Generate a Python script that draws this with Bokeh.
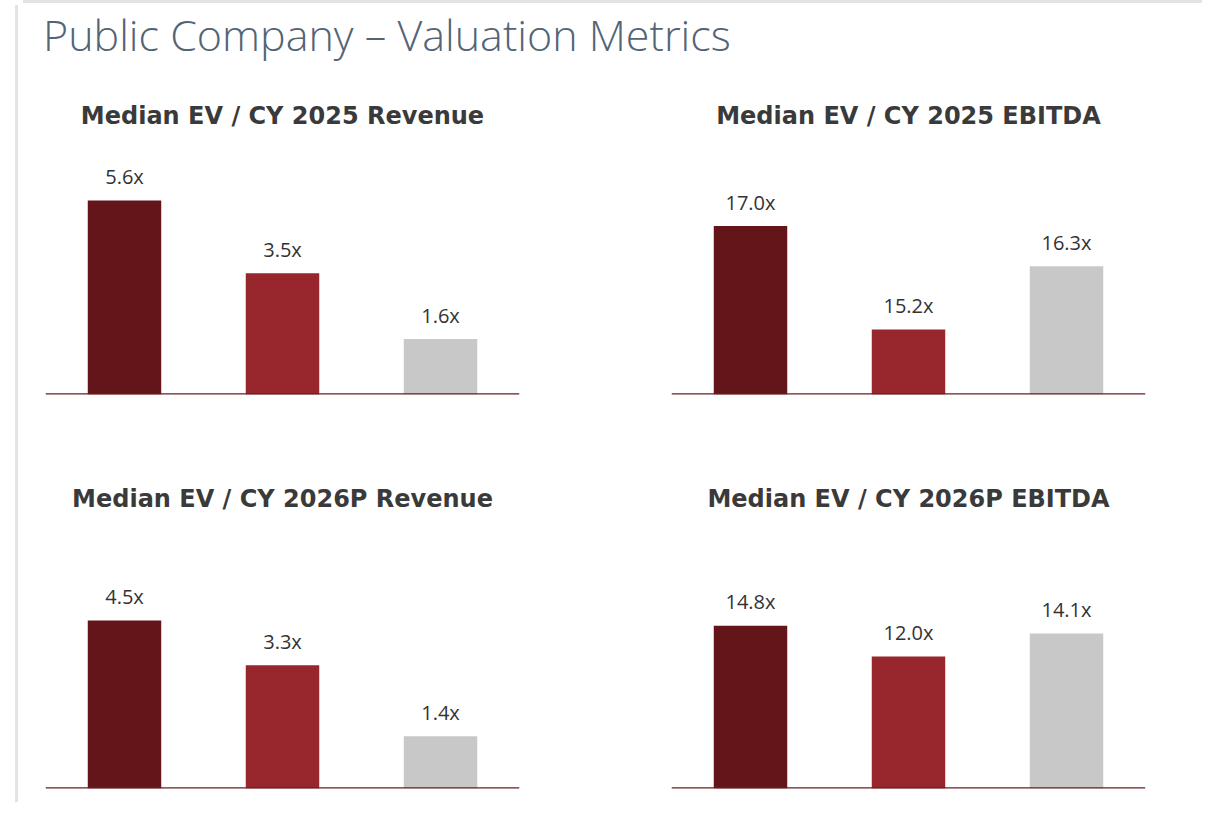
from bokeh.plotting import figure
from bokeh.models import Div, Span, FactorRange, Range1d, Title, Spacer
from bokeh.layouts import column, row
from bokeh.core.properties import value
from bokeh.embed import file_html
from bokeh.resources import INLINE

# ---- data ----
groups = ["Group 1", "Group 2", "Group 3"]
rev_2025 = [5.6, 3.5, 1.6]
ebitda_2025 = [17.0, 15.2, 16.3]
rev_2026 = [4.5, 3.3, 1.4]
ebitda_2026 = [14.8, 12.0, 14.1]
titles = ["Median EV / CY 2025 Revenue", "Median EV / CY 2025 EBITDA",
          "Median EV / CY 2026P Revenue", "Median EV / CY 2026P EBITDA"]
main_title = "Public Company \u2013 Valuation Metrics"

bar_colors = ["#641519", "#97262d", "#c8c8c8"]
axis_color = "#6b1c21"
frame_color = "#e3e3e3"


def make_chart(title, vals, y_start, y_end, width, height, bl, br, bt, bb):
    p = figure(x_range=FactorRange(*groups, range_padding=0),
               y_range=Range1d(y_start, y_end),
               width=width, height=height, output_backend="svg",
               toolbar_location=None, x_axis_location=None, y_axis_location=None,
               min_border_left=bl, min_border_right=br,
               min_border_top=bt, min_border_bottom=bb)
    p.title = Title(text=title, align="center", text_font="DejaVu Sans",
                    text_font_size="24px", text_font_style="bold",
                    text_color="#3a3a3a", standoff=16)
    p.grid.visible = False
    p.outline_line_color = None
    p.background_fill_color = "white"
    p.border_fill_color = "white"
    p.vbar(x=groups, top=vals, bottom=y_start, width=0.465,
           color=bar_colors, line_color=None)
    p.text(x=groups, y=vals, text=[f"{v:.1f}x" for v in vals],
           text_align="center", text_baseline="alphabetic", y_offset=-24,
           text_font=value("Open Sans"), text_font_size="20px", text_color="#333333")
    p.add_layout(Span(location=y_start, dimension="width",
                      line_color=axis_color, line_width=2.5))
    return p


p1 = make_chart(titles[0], rev_2025, 0, 7.42, 572, 340, 22, 76, 64, 19)
p2 = make_chart(titles[1], ebitda_2025, 14.07, 18.54, 607, 340, 76, 57, 64, 19)
p3 = make_chart(titles[2], rev_2026, 0, 7.18, 572, 394, 22, 76, 107, 19)
p4 = make_chart(titles[3], ebitda_2026, 0, 24.36, 607, 394, 76, 57, 107, 19)

head = Div(text=main_title, width=1179, height=60,
           styles={"font-family": "'Open Sans'", "font-weight": "300",
                   "font-size": "43px", "color": "#536475", "line-height": "1.25",
                   "padding-left": "15px", "padding-top": "0px",
                   "box-sizing": "border-box", "white-space": "nowrap"})

top_bar = Spacer(width=1179, height=3, styles={"background-color": frame_color})
left_bar = Div(text="", width=3, height=797, styles={"background-color": frame_color})
right_bar = Div(text="", width=3, height=797, styles={"background-color": frame_color})

inner = column(top_bar, head, row(p1, p2, spacing=0), row(p3, p4, spacing=0), spacing=0)

layout = row(Spacer(width=10, height=10), left_bar, inner, right_bar, spacing=0)

open("out.html", "w").write(file_html(layout, INLINE))
